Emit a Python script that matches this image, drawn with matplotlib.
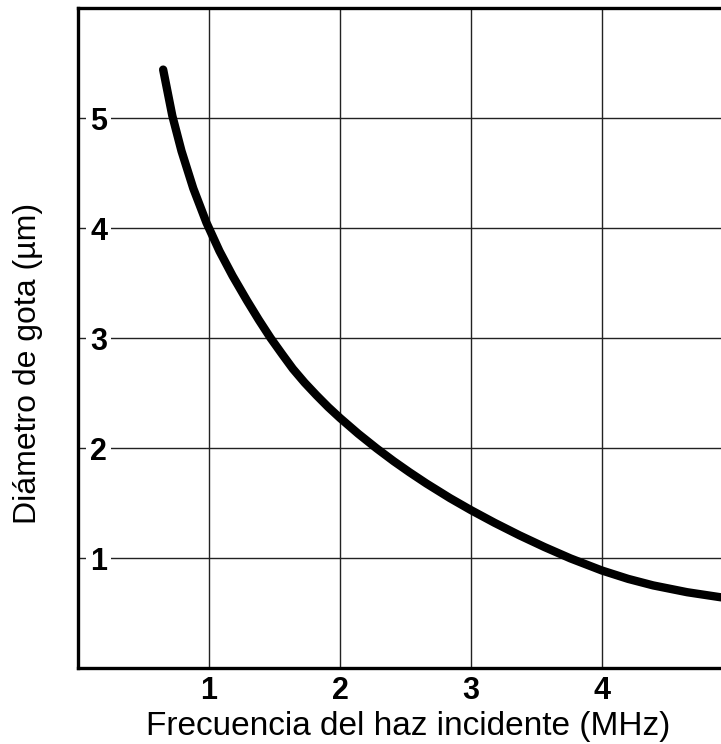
import matplotlib
matplotlib.use("Agg")
import matplotlib.pyplot as plt

# Data
freq = [0.65, 0.72, 0.79, 0.88, 0.98, 1.08, 1.18, 1.29, 1.38, 1.47, 1.56, 1.64, 1.73, 1.82, 1.91,
        2.0, 2.14, 2.28, 2.41, 2.53, 2.66, 2.84, 3.0, 3.18, 3.37, 3.56, 3.76, 4.0, 4.2, 4.39, 4.65, 4.9, 5.0]
diam = [5.44, 5.02, 4.70, 4.36, 4.05, 3.79, 3.565, 3.34, 3.165, 3.0, 2.85, 2.72, 2.594, 2.48, 2.372,
        2.273, 2.129, 1.996, 1.88, 1.78, 1.677, 1.544, 1.435, 1.32, 1.206, 1.10, 0.996, 0.886, 0.81, 0.751, 0.689, 0.644, 0.63]
xticks = [1, 2, 3, 4]
yticks = [1, 2, 3, 4, 5]
xlabel = "Frecuencia del haz incidente (MHz)"
ylabel = "Diámetro de gota (µm)"

plt.rcParams['font.family'] = ['Liberation Sans', 'DejaVu Sans']

fig = plt.figure(figsize=(7.21, 7.44), dpi=100)
ax = fig.add_axes([78/721, (744-668)/744, 655/721, 660/744])

ax.plot(freq, diam, color='black', lw=6, solid_capstyle='round', solid_joinstyle='round', zorder=3)

ax.set_xlim(0, 5)
ax.set_ylim(0, 6)
ax.set_xticks(xticks)
ax.set_yticks(yticks)
ax.grid(True, color='#222222', lw=1.0)

for s in ['top', 'left', 'bottom']:
    ax.spines[s].set_linewidth(2.4)
    ax.spines[s].set_color('black')
ax.spines['right'].set_visible(False)

ax.tick_params(axis='x', length=0, pad=6, labelsize=22)
ax.tick_params(axis='y', length=0, pad=-21, labelsize=22)
for lab in ax.get_xticklabels() + ax.get_yticklabels():
    lab.set_fontweight('bold')
for lab in ax.get_yticklabels():
    lab.set_bbox(dict(facecolor='white', edgecolor='none', pad=3))

ax.set_xlabel(xlabel, fontsize=24, va='baseline')
ax.set_ylabel(ylabel, fontsize=23)
ax.xaxis.set_label_coords(0.504, -(735 - 668) / 660)
ax.yaxis.set_label_coords(-0.053, 0.462)

fig.savefig("out.png", dpi=100)
